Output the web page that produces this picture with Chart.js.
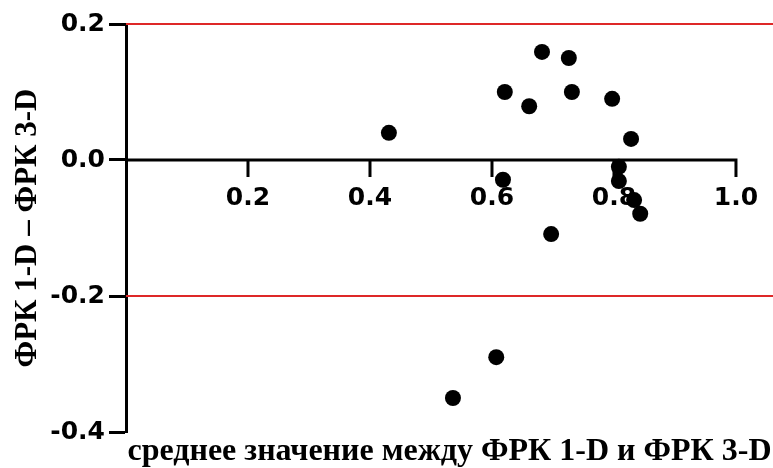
<!DOCTYPE html>
<html>
<head>
<meta charset="utf-8">
<script src="https://cdn.jsdelivr.net/npm/chart.js@4.4.1/dist/chart.umd.min.js"></script>
<style>
  html, body { margin: 0; padding: 0; background: #ffffff; overflow: hidden; }
  canvas { display: block; }
</style>
</head>
<body>
<canvas id="c" width="773" height="468"></canvas>
<script>
// ---- data ----
const meanValues = [0.431, 0.621, 0.661, 0.682, 0.726, 0.731, 0.797, 0.828, 0.808, 0.808, 0.618, 0.833, 0.843, 0.697, 0.607, 0.536];
const diffValues = [0.040, 0.100, 0.079, 0.159, 0.150, 0.100, 0.090, 0.031, -0.010, -0.031, -0.029, -0.059, -0.079, -0.109, -0.290, -0.350];
const limitsOfAgreement = [0.2, -0.2];
const xTickValues = [0.2, 0.4, 0.6, 0.8, 1.0];
const xTickLabels = ['0.2', '0.4', '0.6', '0.8', '1.0'];
const yTickLabels = ['-0.4', '-0.2', '0.0', '0.2'];
const xTitle = 'среднее значение между ФРК 1-D и ФРК 3-D';
const yTitle = 'ФРК 1-D – ФРК 3-D';

const xAxisMax = 1.0607;
const tickFont = { family: 'DejaVu Sans', weight: 'bold', size: 25 };

const pointData = meanValues.map((m, i) => ({ x: m, y: diffValues[i] }));
const limitSets = limitsOfAgreement.map(l => ({
  type: 'line',
  data: [{ x: 0, y: l }, { x: xAxisMax, y: l }],
  borderColor: 'rgb(222,40,40)',
  borderWidth: 2,
  pointRadius: 0,
  order: 2,
  clip: false
}));

const zeroAxis = {
  id: 'zeroAxis',
  beforeDatasetsDraw(chart) {
    const { ctx, scales: { x, y } } = chart;
    const y0 = y.getPixelForValue(0);
    const xStart = x.getPixelForValue(0);
    const xEnd = x.getPixelForValue(xTickValues[xTickValues.length - 1]);
    ctx.save();
    ctx.strokeStyle = '#000';
    ctx.lineWidth = 3;
    ctx.beginPath();
    ctx.moveTo(xStart, y0);
    ctx.lineTo(xEnd + 1.5, y0);
    xTickValues.forEach(v => {
      const px = x.getPixelForValue(v);
      ctx.moveTo(px, y0);
      ctx.lineTo(px, y0 + 17);
    });
    ctx.stroke();
    ctx.fillStyle = '#000';
    ctx.font = 'bold 25px "DejaVu Sans"';
    ctx.textAlign = 'center';
    ctx.textBaseline = 'middle';
    xTickValues.forEach((v, i) => {
      ctx.fillText(xTickLabels[i], x.getPixelForValue(v), y0 + 38);
    });
    ctx.restore();
  }
};

new Chart(document.getElementById('c'), {
  type: 'scatter',
  data: {
    datasets: [
      {
        type: 'scatter',
        data: pointData,
        backgroundColor: '#000',
        borderWidth: 0,
        pointRadius: 8,
        pointHoverRadius: 8,
        order: 0,
        clip: false
      },
      ...limitSets
    ]
  },
  options: {
    responsive: false,
    animation: false,
    layout: { autoPadding: false, padding: { top: 24, right: 0, bottom: 0, left: 0 } },
    plugins: { legend: { display: false }, tooltip: { enabled: false } },
    scales: {
      x: {
        type: 'linear',
        min: 0,
        max: xAxisMax,
        position: 'bottom',
        grid: { display: false },
        border: { display: false },
        ticks: { display: false },
        title: {
          display: true,
          text: xTitle,
          color: '#000',
          font: { family: 'Liberation Serif', weight: 'bold', size: 32, lineHeight: 1.0 },
          padding: { top: 0, bottom: 0 }
        },
        afterFit(s) { s.height = 36; s.paddingLeft = 0; s.paddingRight = 0; }
      },
      y: {
        type: 'linear',
        min: -0.4,
        max: 0.2,
        position: 'left',
        border: { display: true, color: '#000', width: 3 },
        grid: { display: true, drawOnChartArea: false, drawTicks: true, tickLength: 17, tickColor: '#000', tickWidth: 3, color: '#000' },
        ticks: {
          stepSize: 0.2,
          color: '#000',
          font: tickFont,
          padding: 4,
          callback: (v) => {
            const idx = Math.round((v + 0.4) / 0.2);
            return yTickLabels[idx];
          }
        },
        title: {
          display: true,
          text: yTitle,
          color: '#000',
          font: { family: 'Liberation Serif', weight: 'bold', size: 31, lineHeight: 1.0 },
          padding: { top: 12, bottom: 0 }
        },
        afterFit(s) { s.width = 126; s.paddingLeft = 0; s.paddingRight = 0; }
      }
    }
  },
  plugins: [zeroAxis]
});
</script>
</body>
</html>
